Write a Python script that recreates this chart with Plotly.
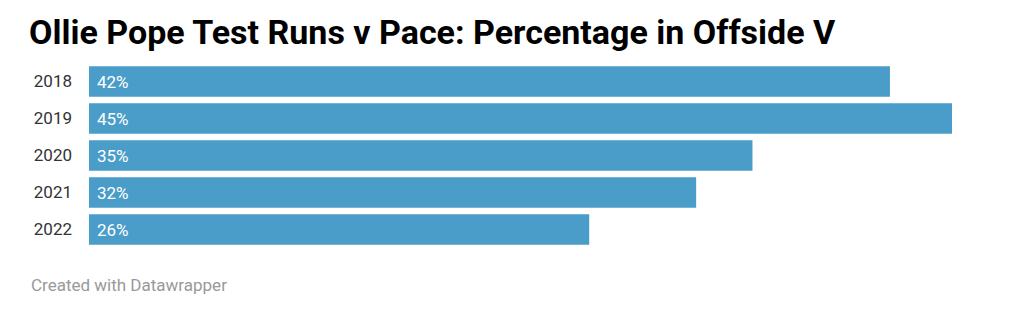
import plotly.graph_objects as go

years = ["2018", "2019", "2020", "2021", "2022"]
values = [41.95, 45.2, 34.75, 31.8, 26.2]
labels = ["42%", "45%", "35%", "32%", "26%"]

W, H = 1024, 315
ml, mr, mt, mb = 89, 72, 63, 67
pw = W - ml - mr
ph = H - mt - mb

fig = go.Figure(go.Bar(
    x=values, y=years, orientation="h",
    marker=dict(color="#4a9dc9", line=dict(width=0)),
    hoverinfo="skip",
))

for i, lab in enumerate(labels):
    fig.add_annotation(x=0, y=i, xref="x", yref="y", text=lab, showarrow=False,
                       xanchor="left", xshift=6,
                       font=dict(family="Roboto", size=17, color="white"))

fig.add_annotation(x=(29 - ml) / pw, y=(H - mb - 285) / ph, xref="paper", yref="paper",
                   text="Created with Datawrapper", showarrow=False,
                   xanchor="left", yanchor="middle",
                   font=dict(family="Roboto", size=17, color="#999999"))

fig.update_layout(
    width=W, height=H,
    margin=dict(l=ml, r=mr, t=mt, b=mb, autoexpand=False),
    paper_bgcolor="white", plot_bgcolor="white",
    bargap=0.176,
    showlegend=False,
    title=dict(text="<b>Ollie Pope Test Runs v Pace: Percentage in Offside V</b>",
               x=29 / W, xanchor="left", xref="container",
               y=1 - 32 / H, yanchor="middle", yref="container",
               font=dict(family="Roboto", size=34, color="#000000")),
    xaxis=dict(range=[0, 45.2], visible=False, fixedrange=True),
    yaxis=dict(type="category", range=[len(years) - 0.5, -0.5], showgrid=False,
               zeroline=False, showline=False, ticks="", ticklabelstandoff=16,
               fixedrange=True,
               tickfont=dict(family="Roboto", size=17, color="#333333")),
)

fig.write_html("out.html", config={"displayModeBar": False},
               post_script="document.body.style.margin='0';")
